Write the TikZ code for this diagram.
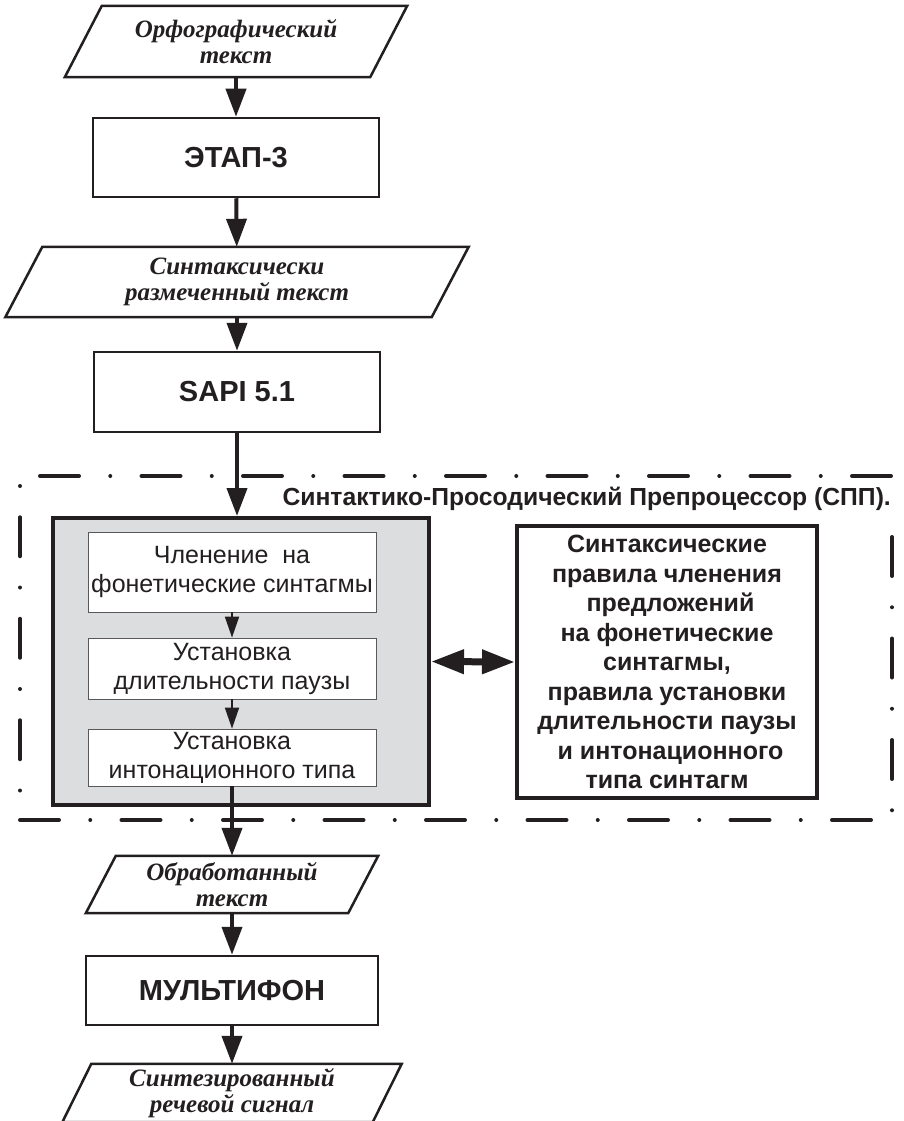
\documentclass[tikz,border=0pt]{standalone}
\usepackage{fontspec}
\setmainfont{Liberation Serif}
\setsansfont{Liberation Sans}
\usepackage{tikz}
\usetikzlibrary{arrows.meta}
\definecolor{ink}{HTML}{231F20}
\definecolor{shade}{HTML}{DCDDDF}
\tikzset{
  base/.style={draw=ink, line width=2.5pt},
  blk/.style={base, rectangle, inner sep=0pt, text=ink, font=\sffamily\bfseries\fontsize{29}{31}\selectfont},
  io/.style={rectangle, inner sep=0pt, minimum height=71, align=center, text=ink, font=\bfseries\itshape\fontsize{25}{26}\selectfont},
  grp/.style={draw=ink, line width=4pt, fill=shade, inner sep=0pt},
  sub/.style={draw=ink!75, line width=0.8pt, fill=white, minimum width=288, inner sep=0pt, align=center, text=ink, font=\sffamily\fontsize{25}{29}\selectfont},
  rule/.style={draw=ink, line width=4pt, fill=white, inner sep=0pt, align=center, text=ink, font=\sffamily\bfseries\fontsize{25}{29.5}\selectfont},
  lbl/.style={text=ink, inner sep=0pt, font=\sffamily\bfseries\fontsize{24.7}{28}\selectfont},
  flow/.style={draw=ink, line width=4pt, -{Triangle[length=28pt,width=20pt]}},
  thin/.style={draw=ink, line width=1.8pt, -{Triangle[length=21pt,width=14pt]}},
  both/.style={draw=ink, line width=7pt, {Triangle[length=33pt,width=23pt]}-{Triangle[length=33pt,width=23pt]}},
  frm/.style={draw=ink, line width=4pt, line cap=round},
  dd/.style={frm, dash pattern=on 39pt off 31.25pt on 0pt off 31.25pt},
  dd0/.style={frm, dash pattern=on 0pt off 31.25pt on 39pt off 31.25pt},
}

\begin{document}
\begin{tikzpicture}[x=1pt,y=-1pt]
  \useasboundingbox (0,0) rectangle (904,1121);

  % dash-dot frame of the preprocessor
  \draw[dd]  (40,476) -- (893,476);
  \draw[dd0] (20,486) -- (20,820);
  \draw[dd]  (892,537) -- (892,820);
  \draw[dd]  (20,820) -- (892,820);

  % upper chain
  \node[io, minimum width=305] (p1) at (236,41.5) {Орфографический\\текст};
  \node[blk, minimum width=286, minimum height=79] (etap) at (236,157.5) {ЭТАП-3};
  \node[io, minimum width=426, minimum height=70] (p2) at (237,282) {Синтаксически\\размеченный текст};
  \node[blk, minimum width=286, minimum height=80] (sapi) at (237,392) {SAPI 5.1};

  % preprocessor
  \node[lbl, anchor=base east] (title) at (891,505) {Синтактико-Просодический Препроцессор (СПП).};
  \node[grp, minimum width=376, minimum height=287] (spp) at (241,661.5) {};
  \node[sub, minimum height=80] (c1) at (232,572) {Членение\ \ на\\фонетические синтагмы};
  \node[sub, minimum height=61] (c2) at (232,668.5) {Установка\\длительности паузы};
  \node[sub, minimum height=57] (c3) at (232,757.5) {Установка\\интонационного типа};
  \node[rule, minimum width=300, minimum height=272] (rules) at (667,662)
    {Синтаксические\\правила членения\\\ предложений\\на фонетические\\синтагмы,\\правила установки\\длительности паузы\\\ и интонационного\\типа синтагм};

  % lower chain
  \node[io, minimum width=262, minimum height=57] (p3) at (232,884.5) {Обработанный\\текст};
  \node[blk, minimum width=292, minimum height=69] (multi) at (232,990.5) {МУЛЬТИФОН};
  \node[io, minimum width=310, minimum height=58] (p4) at (232,1093) {Синтезированный\\речевой сигнал};

  % slanted outlines of the text nodes
  \foreach \n/\s in {p1/18.5, p2/18.5, p3/15, p4/14.5}
    \draw[base] ([xshift=\s pt]\n.north west) -- ([xshift=\s pt]\n.north east)
      -- ([xshift=-\s pt]\n.south east) -- ([xshift=-\s pt]\n.south west) -- cycle;

  % connectors
  \draw[flow] (p1) -- (etap);
  \draw[flow] (etap) -- (p2);
  \draw[flow] (p2) -- (sapi);
  \draw[flow] (sapi) -- (sapi |- spp.north);
  \draw[thin] (c1) -- (c2);
  \draw[thin] (c2) -- (c3);
  \draw[flow] (c3) -- (p3);
  \draw[flow] (p3) -- (multi);
  \draw[flow] (multi) -- (p4);
  \draw[both] (spp.east) -- (rules.west);
\end{tikzpicture}
\end{document}
